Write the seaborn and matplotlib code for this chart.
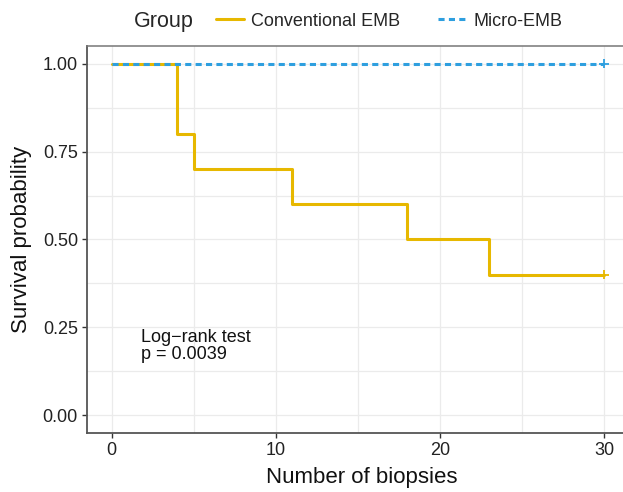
import pandas as pd
import seaborn as sns
import matplotlib.pyplot as plt
from matplotlib.lines import Line2D
from matplotlib.ticker import MultipleLocator

# ----------------------------------------
# DATA (Kaplan-Meier step points)
# ----------------------------------------
conv_time = [0, 4, 5, 11, 18, 23, 30]
conv_surv = [1.0, 0.8, 0.7, 0.6, 0.5, 0.4, 0.4]
micro_time = [0, 30]
micro_surv = [1.0, 1.0]
censor_time = [30, 30]
censor_surv = [0.4, 1.0]
groups = ["Conventional EMB", "Micro-EMB"]
colors = ["#E7B800", "#2E9FDF"]
pval_text = "Log\u2212rank test\np = 0.0039"

df = pd.concat([
    pd.DataFrame({"time": conv_time, "surv": conv_surv, "Group": groups[0]}),
    pd.DataFrame({"time": micro_time, "surv": micro_surv, "Group": groups[1]}),
])
cens = pd.DataFrame({"time": censor_time, "surv": censor_surv, "Group": groups})

# ----------------------------------------
# STYLE
# ----------------------------------------
sns.set_style("white")
plt.rcParams["font.family"] = ["Liberation Sans", "DejaVu Sans"]
palette = dict(zip(groups, colors))

fig = plt.figure(figsize=(6.23, 4.92), dpi=100)
ax = fig.add_axes([87 / 623, 59 / 492, 541.6 / 623, 387 / 492])

sns.lineplot(data=df, x="time", y="surv", hue="Group", style="Group",
             palette=palette, dashes={groups[0]: "", groups[1]: (2, 1.4)},
             estimator=None, drawstyle="steps-post", linewidth=2.2,
             legend=False, ax=ax)
sns.scatterplot(data=cens, x="time", y="surv", hue="Group", palette=palette,
                marker="+", s=45, linewidth=1.3, legend=False, ax=ax, zorder=5)

ax.set_xlim(-1.5, 31.5)
ax.set_ylim(-0.05, 1.05)
ax.xaxis.set_major_locator(MultipleLocator(10))
ax.xaxis.set_minor_locator(MultipleLocator(5))
ax.yaxis.set_major_locator(MultipleLocator(0.25))
ax.yaxis.set_minor_locator(MultipleLocator(0.125))
ax.set_yticklabels([f"{v:.2f}" for v in ax.get_yticks()])
ax.grid(True, which="both", color="#EBEBEB", linewidth=0.9)
ax.set_axisbelow(True)
ax.tick_params(which="major", direction="out", length=3.5, width=1, color="#333333",
               labelsize=13, labelcolor="#222222", pad=3, bottom=True, left=True)
ax.tick_params(which="minor", length=0)
for side in ["top", "right"]:
    ax.spines[side].set_color("#777777")
    ax.spines[side].set_linewidth(1.1)
for side in ["left", "bottom"]:
    ax.spines[side].set_color("#555555")
    ax.spines[side].set_linewidth(1.3)

ax.set_xlabel("Number of biopsies", fontsize=16, color="#111111")
ax.set_ylabel("Survival probability", fontsize=16, color="#111111", labelpad=8)
ax.xaxis.set_label_coords((362 - 87) / 541.6, -(467 - 433) / 387)

ax.text(1.8, 0.197, pval_text, fontsize=13, va="center", ha="left",
        color="#111111", linespacing=1.0)

# legend on top, title to the left
fig.text(134 / 623, 1 - 21 / 492, "Group", fontsize=15.5, va="center", ha="left")
handles = [Line2D([], [], color=colors[0], linewidth=2.2),
           Line2D([], [], color=colors[1], linewidth=2.2, dashes=(2, 1.4))]
fig.legend(handles, groups, ncol=2, loc="center left",
           bbox_to_anchor=(216 / 623, 1 - 21 / 492), frameon=False, borderpad=0,
           borderaxespad=0, fontsize=13, handlelength=1.55, handletextpad=0.4,
           columnspacing=2.1)

plt.savefig("out.png", dpi=100)
